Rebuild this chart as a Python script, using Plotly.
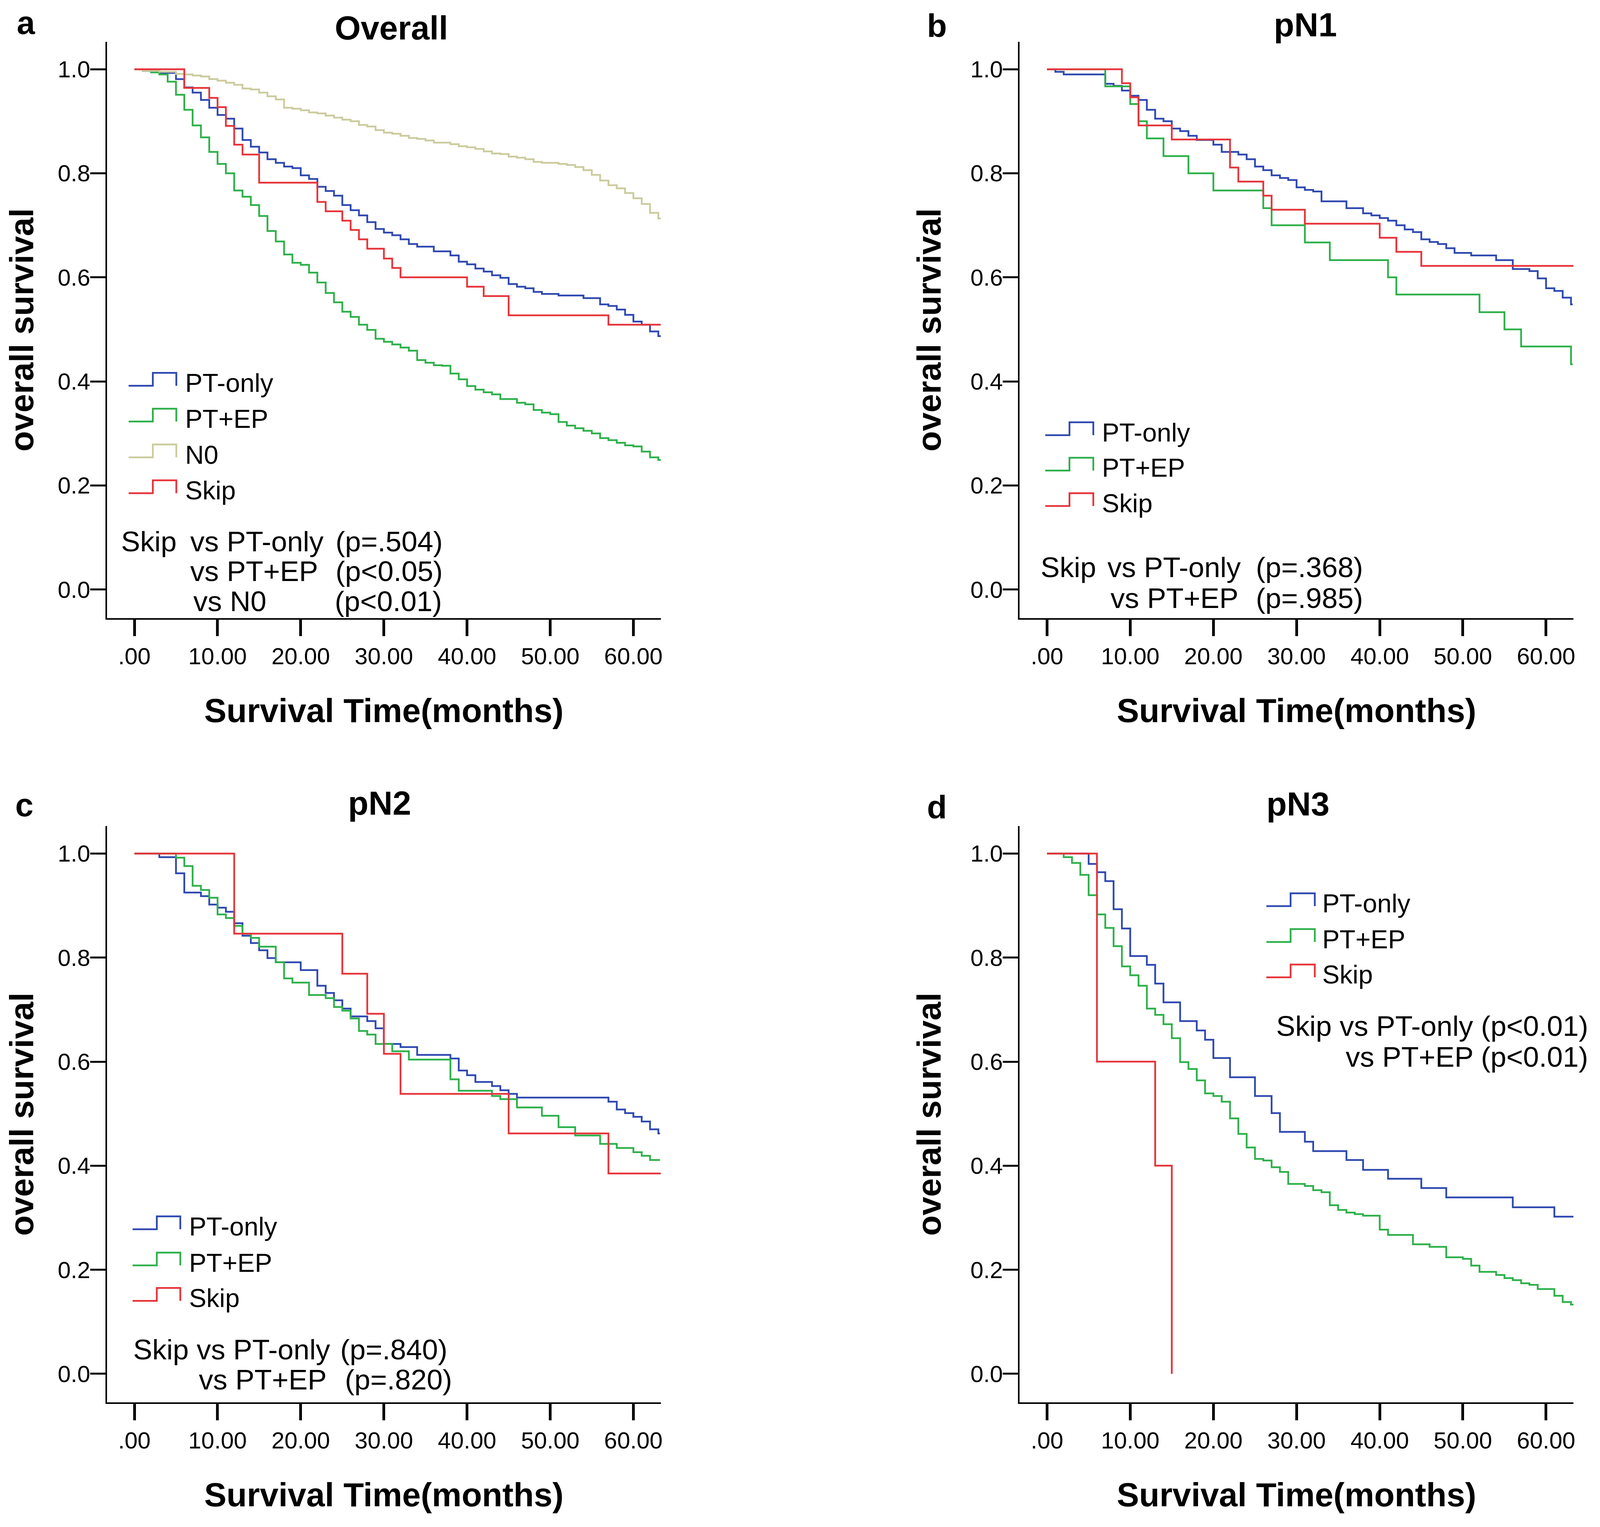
import plotly.graph_objects as go

# Reference picture is 4410x3908. The browser viewport that photographs the page is
# ~4096 px wide (3908 tall) and the page body keeps its default 8px margin, so the
# layout is specified in reference pixels and mapped onto the available page area.
REF_W, REF_H = 4410, 3908
VIEW_W, VIEW_H = 4096, 3908
BODY = 8
W = VIEW_W - 2 * BODY - 4
H = VIEW_H - 2 * BODY - 7
SX = (BODY + W) / REF_W
SY = (BODY + H) / REF_H
FF = 0.95  # font scale (compromise between horizontal and vertical scale)

FONT = "Arial, Liberation Sans, Helvetica, sans-serif"
BLUE, GREEN, TAN, RED = "#2E48B0", "#2DB04A", "#CBCB9E", "#E6343A"

# ---------------- data ----------------
# Panel a: Overall
a_pto_t = [0, 1, 3, 5, 6, 7, 8, 9, 10, 11, 12, 13, 14, 15, 16, 17, 18, 19, 20, 21, 22, 23, 24, 25, 26, 27, 28, 29, 30, 31,
           32, 33, 34, 36, 38, 39, 40, 41, 42, 43, 44, 45, 46, 47, 48, 49, 51, 54, 56, 57, 58, 59, 60, 61, 62, 63, 63.3]
a_pto_s = [1.0, 0.997, 0.993, 0.981, 0.965, 0.955, 0.941, 0.926, 0.912, 0.905, 0.886, 0.864, 0.851, 0.840, 0.827, 0.820,
           0.813, 0.810, 0.796, 0.789, 0.774, 0.766, 0.757, 0.739, 0.729, 0.719, 0.706, 0.693, 0.686, 0.681, 0.673, 0.664,
           0.659, 0.650, 0.642, 0.630, 0.625, 0.617, 0.611, 0.604, 0.599, 0.587, 0.582, 0.579, 0.572, 0.568, 0.565, 0.560,
           0.548, 0.545, 0.538, 0.528, 0.515, 0.509, 0.496, 0.487, 0.487]
a_ptep_t = [0, 1, 2, 3, 4, 5, 6, 7, 8, 9, 10, 11, 12, 13, 14, 15, 16, 17, 18, 19, 20, 21, 22, 23, 24, 25, 26, 27, 28, 29,
            30, 31, 32, 33, 34, 35, 36, 37, 38, 39, 40, 41, 42, 43, 44, 46, 47, 48, 49, 50, 51, 52, 53, 54, 55, 56, 57,
            58, 59, 60, 61, 62, 63, 63.3]
a_ptep_s = [1.0, 0.997, 0.994, 0.990, 0.976, 0.951, 0.922, 0.892, 0.869, 0.841, 0.818, 0.800, 0.767, 0.755, 0.739, 0.718,
            0.689, 0.669, 0.644, 0.628, 0.624, 0.609, 0.590, 0.570, 0.552, 0.534, 0.524, 0.509, 0.499, 0.482, 0.476,
            0.471, 0.465, 0.459, 0.441, 0.436, 0.431, 0.430, 0.415, 0.404, 0.391, 0.384, 0.379, 0.375, 0.366, 0.359,
            0.356, 0.345, 0.340, 0.337, 0.322, 0.315, 0.310, 0.305, 0.300, 0.291, 0.287, 0.282, 0.277, 0.275, 0.265,
            0.254, 0.249, 0.249]
a_n0_t = [0, 1, 3, 5, 6, 7, 8, 9, 10, 11, 12, 13, 14, 15, 16, 17, 18, 19, 20, 21, 22, 23, 24, 25, 26, 27, 28, 29, 30, 31,
          32, 33, 34, 35, 36, 38, 39, 40, 41, 42, 43, 44, 45, 46, 47, 48, 49, 51, 52, 53, 54, 55, 56, 57, 58, 59, 60, 61,
          62, 63, 63.3]
a_n0_s = [1.0, 0.997, 0.995, 0.991, 0.990, 0.988, 0.986, 0.981, 0.978, 0.974, 0.970, 0.963, 0.961, 0.955, 0.948, 0.942,
          0.926, 0.924, 0.921, 0.917, 0.915, 0.911, 0.907, 0.903, 0.900, 0.893, 0.890, 0.883, 0.878, 0.876, 0.872, 0.868,
          0.866, 0.863, 0.859, 0.856, 0.852, 0.850, 0.847, 0.842, 0.838, 0.837, 0.832, 0.830, 0.827, 0.822, 0.820, 0.818,
          0.816, 0.812, 0.806, 0.797, 0.786, 0.777, 0.771, 0.762, 0.752, 0.741, 0.724, 0.713, 0.713]
a_skip_t = [0, 6, 9, 10, 11, 12, 13, 15, 22, 23, 25, 26, 27, 28, 30, 31, 32, 40, 42, 45, 57, 63.3]
a_skip_s = [1.0, 0.964, 0.945, 0.927, 0.891, 0.855, 0.836, 0.782, 0.745, 0.727, 0.709, 0.691, 0.673, 0.655, 0.636, 0.618,
            0.600, 0.582, 0.564, 0.527, 0.509, 0.509]

# Panel b: pN1
b_pto_t = [0, 1, 2, 7, 8, 9, 10, 11, 12, 13, 14, 15, 16, 17, 18, 20, 21, 23, 24, 25, 26, 27, 28, 29, 30, 31, 32, 33, 36,
           38, 39, 40, 41, 42, 43, 44, 45, 46, 47, 48, 49, 51, 54, 56, 58, 59, 60, 61, 62, 63, 63.2]
b_pto_s = [1.0, 0.995, 0.990, 0.972, 0.968, 0.959, 0.949, 0.941, 0.922, 0.905, 0.900, 0.886, 0.881, 0.872, 0.864, 0.855,
           0.841, 0.836, 0.827, 0.813, 0.806, 0.796, 0.791, 0.787, 0.773, 0.768, 0.765, 0.746, 0.733, 0.723, 0.719, 0.714,
           0.709, 0.700, 0.692, 0.687, 0.673, 0.668, 0.664, 0.656, 0.647, 0.642, 0.633, 0.616, 0.612, 0.598, 0.579, 0.574,
           0.561, 0.548, 0.548]
b_ptep_t = [0, 7, 10, 11, 12, 14, 17, 20, 26, 27, 31, 34, 41, 42, 52, 55, 57, 63, 63.2]
b_ptep_s = [1.0, 0.967, 0.933, 0.900, 0.867, 0.833, 0.800, 0.767, 0.733, 0.700, 0.667, 0.633, 0.600, 0.567, 0.533, 0.500,
            0.467, 0.433, 0.433]
b_skip_t = [0, 9, 10, 11, 15, 22, 23, 26, 27, 31, 40, 42, 45, 63.3]
b_skip_s = [1.0, 0.973, 0.946, 0.892, 0.865, 0.811, 0.784, 0.757, 0.730, 0.703, 0.676, 0.649, 0.622, 0.622]

# Panel c: pN2
c_pto_t = [0, 3, 5, 6, 8, 9, 10, 11, 12, 13, 14, 15, 16, 17, 20, 22, 23, 24, 25, 26, 28, 29, 30, 32, 34, 38, 39, 40, 41,
           43, 44, 45, 46, 57, 58, 59, 60, 61, 62, 63, 63.2]
c_pto_s = [1.0, 0.993, 0.962, 0.925, 0.918, 0.902, 0.896, 0.888, 0.866, 0.842, 0.828, 0.814, 0.799, 0.791, 0.776, 0.746,
           0.732, 0.718, 0.702, 0.687, 0.678, 0.664, 0.634, 0.628, 0.613, 0.606, 0.583, 0.574, 0.561, 0.553, 0.545, 0.538,
           0.531, 0.523, 0.508, 0.501, 0.494, 0.485, 0.470, 0.462, 0.462]
c_ptep_t = [0, 5, 6, 7, 8, 9, 10, 11, 12, 13, 14, 15, 17, 18, 19, 21, 23, 24, 25, 26, 27, 28, 29, 31, 33, 38, 39, 43, 44,
            46, 49, 51, 53, 56, 58, 60, 61, 62, 63.2]
c_ptep_s = [1.0, 0.992, 0.976, 0.938, 0.930, 0.915, 0.883, 0.876, 0.861, 0.846, 0.838, 0.821, 0.791, 0.760, 0.752, 0.728,
            0.722, 0.705, 0.698, 0.683, 0.659, 0.652, 0.634, 0.620, 0.604, 0.566, 0.544, 0.534, 0.528, 0.512, 0.496,
            0.474, 0.458, 0.442, 0.434, 0.426, 0.419, 0.411, 0.411]
c_skip_t = [0, 12, 25, 28, 30, 32, 45, 57, 63.3]
c_skip_s = [1.0, 0.846, 0.769, 0.692, 0.615, 0.538, 0.462, 0.385, 0.385]

# Panel d: pN3
d_pto_t = [0, 5, 6, 7, 8, 9, 10, 12, 13, 14, 16, 18, 19, 20, 22, 25, 27, 28, 31, 32, 36, 38, 41, 45, 48, 56, 61, 63.3]
d_pto_s = [1.0, 0.980, 0.964, 0.947, 0.893, 0.856, 0.803, 0.786, 0.750, 0.714, 0.678, 0.660, 0.642, 0.607, 0.570, 0.534,
           0.501, 0.465, 0.446, 0.428, 0.411, 0.392, 0.375, 0.357, 0.339, 0.320, 0.302, 0.302]
d_ptep_t = [0, 2, 3, 4, 5, 6, 7, 8, 9, 10, 11, 12, 13, 14, 15, 16, 17, 18, 19, 20, 21, 22, 23, 24, 25, 26, 27, 28, 29, 31,
            32, 33, 34, 35, 36, 37, 38, 40, 41, 44, 46, 48, 50, 51, 52, 54, 55, 56, 57, 58, 59, 61, 62, 63, 63.3]
d_ptep_s = [1.0, 0.993, 0.982, 0.959, 0.920, 0.883, 0.857, 0.822, 0.783, 0.766, 0.746, 0.702, 0.690, 0.672, 0.645, 0.599,
            0.586, 0.564, 0.539, 0.534, 0.523, 0.491, 0.461, 0.435, 0.413, 0.410, 0.397, 0.388, 0.365, 0.361, 0.353,
            0.349, 0.324, 0.315, 0.310, 0.307, 0.304, 0.277, 0.267, 0.249, 0.244, 0.224, 0.221, 0.208, 0.196, 0.190,
            0.184, 0.180, 0.174, 0.171, 0.163, 0.150, 0.138, 0.133, 0.133]
d_skip_t = [0, 6, 13, 15]
d_skip_s = [1.0, 0.6, 0.4, 0.0]

x_tick_vals = [0, 10, 20, 30, 40, 50, 60]
x_tick_text = [".00", "10.00", "20.00", "30.00", "40.00", "50.00", "60.00"]
y_tick_vals = [0.0, 0.2, 0.4, 0.6, 0.8, 1.0]
y_tick_text = ["0.0", "0.2", "0.4", "0.6", "0.8", "1.0"]


# ---------------- layout helpers (reference pixels -> paper) ----------------
def X(px):
    return (px * SX - BODY) / W


def Y(py):
    return 1 - (py * SY - BODY) / H


def F(v):  # reference font size -> CSS px
    return v * FF


panels = [
    dict(ax="", letter="a", letter_pos=(44, 87), title="Overall", title_pos=(1083, 103),
         xdom=(296, 1829), ydom=(107, 1588),
         series=[("PT-only", a_pto_t, a_pto_s, BLUE), ("PT+EP", a_ptep_t, a_ptep_s, GREEN),
                 ("N0", a_n0_t, a_n0_s, TAN), ("Skip", a_skip_t, a_skip_s, RED)],
         legend=dict(x0=356, xs=423, x1=488, tx=510, lows=[991, 1083, 1175, 1267]),
         notes=[("Skip", 333, 1418, "left"), ("vs PT-only", 524, 1418, "left"), ("(p=.504)", 927, 1418, "left"),
                ("vs PT+EP", 524, 1495, "left"), ("(p<0.05)", 927, 1495, "left"),
                ("vs N0", 533, 1572, "left"), ("(p<0.01)", 924, 1572, "left")]),
    dict(ax="2", letter="b", letter_pos=(2563, 95), title="pN1", title_pos=(3613, 95),
         xdom=(2822, 4355), ydom=(107, 1588),
         series=[("PT-only", b_pto_t, b_pto_s, BLUE), ("PT+EP", b_ptep_t, b_ptep_s, GREEN),
                 ("Skip", b_skip_t, b_skip_s, RED)],
         legend=dict(x0=2893, xs=2960, x1=3026, tx=3048, lows=[1118, 1209, 1300]),
         notes=[("Skip", 2878, 1485, "left"), ("vs PT-only", 3063, 1485, "left"), ("(p=.368)", 3474, 1485, "left"),
                ("vs PT+EP", 3072, 1564, "left"), ("(p=.985)", 3474, 1564, "left")]),
    dict(ax="3", letter="c", letter_pos=(40, 2097), title="pN2", title_pos=(1051, 2095),
         xdom=(296, 1829), ydom=(2122, 3603),
         series=[("PT-only", c_pto_t, c_pto_s, BLUE), ("PT+EP", c_ptep_t, c_ptep_s, GREEN),
                 ("Skip", c_skip_t, c_skip_s, RED)],
         legend=dict(x0=367, xs=434, x1=499, tx=521, lows=[3158, 3251, 3342]),
         notes=[("Skip vs PT-only", 367, 3494, "left"), ("(p=.840)", 939, 3494, "left"),
                ("vs PT+EP", 548, 3572, "left"), ("(p=.820)", 952, 3572, "left")]),
    dict(ax="4", letter="d", letter_pos=(2563, 2103), title="pN3", title_pos=(3593, 2097),
         xdom=(2822, 4355), ydom=(2122, 3603),
         series=[("PT-only", d_pto_t, d_pto_s, BLUE), ("PT+EP", d_ptep_t, d_ptep_s, GREEN),
                 ("Skip", d_skip_t, d_skip_s, RED)],
         legend=dict(x0=3505, xs=3572, x1=3639, tx=3657, lows=[2328, 2420, 2511]),
         notes=[("Skip vs PT-only (p<0.01)", 4398, 2663, "right"), ("vs PT+EP (p<0.01)", 4398, 2742, "right")]),
]

LW = 4.5
TICK_FS, LEG_FS, NOTE_FS, TITLE_FS, AXT_FS, LET_FS = 63, 70, 77, 90, 90, 88

fig = go.Figure()
annotations = []
shapes = []
layout_axes = {}

for p in panels:
    ax = p["ax"]
    for name, t, s, col in p["series"]:
        fig.add_trace(go.Scatter(x=t, y=s, mode="lines", name=name, showlegend=False,
                                 line=dict(color=col, width=LW, shape="hv"),
                                 xaxis="x" + ax, yaxis="y" + ax))
    layout_axes["xaxis" + ax] = dict(
        domain=[X(p["xdom"][0]), X(p["xdom"][1])], anchor="y" + ax, range=[-3.3, 63.3],
        tickmode="array", tickvals=x_tick_vals, ticktext=x_tick_text,
        ticks="outside", ticklen=42 * SY, tickwidth=7, tickcolor="black",
        showline=True, linewidth=4, linecolor="black", showgrid=False, zeroline=False,
        tickfont=dict(family=FONT, size=F(TICK_FS), color="black"),
        title=dict(text="Survival Time(months)", standoff=78 * SY,
                   font=dict(family=FONT, size=F(AXT_FS), color="black", weight="bold")))
    layout_axes["yaxis" + ax] = dict(
        domain=[Y(p["ydom"][1]), Y(p["ydom"][0])], anchor="x" + ax, range=[-0.055, 1.053],
        tickmode="array", tickvals=y_tick_vals, ticktext=y_tick_text,
        ticks="outside", ticklen=42 * SX, tickwidth=5, tickcolor="black", ticklabelstandoff=-12,
        showline=True, linewidth=4, linecolor="black", showgrid=False, zeroline=False,
        tickfont=dict(family=FONT, size=F(TICK_FS), color="black"),
        title=dict(text="overall survival", standoff=52 * SX,
                   font=dict(family=FONT, size=F(AXT_FS), color="black", weight="bold")))

    # panel letter and title
    lx, lb = p["letter_pos"]
    annotations.append(dict(text=p["letter"], x=X(lx), y=Y(lb - 0.33 * LET_FS), xref="paper", yref="paper",
                            xanchor="left", yanchor="middle", showarrow=False,
                            font=dict(family=FONT, size=F(LET_FS), color="black", weight="bold")))
    tx, tb = p["title_pos"]
    annotations.append(dict(text=p["title"], x=X(tx), y=Y(tb - 0.35 * TITLE_FS), xref="paper", yref="paper",
                            xanchor="center", yanchor="middle", showarrow=False,
                            font=dict(family=FONT, size=F(TITLE_FS), color="black", weight="bold")))

    # legend (step glyph + label)
    lg = p["legend"]
    for (name, t, s, col), low in zip(p["series"], lg["lows"]):
        up = low - 33
        path = (f"M {X(lg['x0'])},{Y(low)} L {X(lg['xs'])},{Y(low)} L {X(lg['xs'])},{Y(up)} "
                f"L {X(lg['x1'])},{Y(up)} L {X(lg['x1'])},{Y(low)}")
        shapes.append(dict(type="path", path=path, xref="paper", yref="paper",
                           line=dict(color=col, width=LW)))
        annotations.append(dict(text=name, x=X(lg["tx"]), y=Y(low - 7), xref="paper", yref="paper",
                                xanchor="left", yanchor="middle", showarrow=False,
                                font=dict(family=FONT, size=F(LEG_FS), color="black")))

    # p-value notes
    for txt, nx, nb, anc in p["notes"]:
        annotations.append(dict(text=txt, x=X(nx), y=Y(nb - 0.35 * NOTE_FS), xref="paper", yref="paper",
                                xanchor=anc, yanchor="middle", showarrow=False,
                                font=dict(family=FONT, size=F(NOTE_FS), color="black")))

fig.update_layout(
    width=W, height=H, autosize=False,
    margin=dict(l=0, r=0, t=0, b=0),
    paper_bgcolor="white", plot_bgcolor="white",
    font=dict(family=FONT, color="black"),
    showlegend=False,
    annotations=annotations, shapes=shapes,
    **layout_axes,
)

fig.write_html("out.html")
